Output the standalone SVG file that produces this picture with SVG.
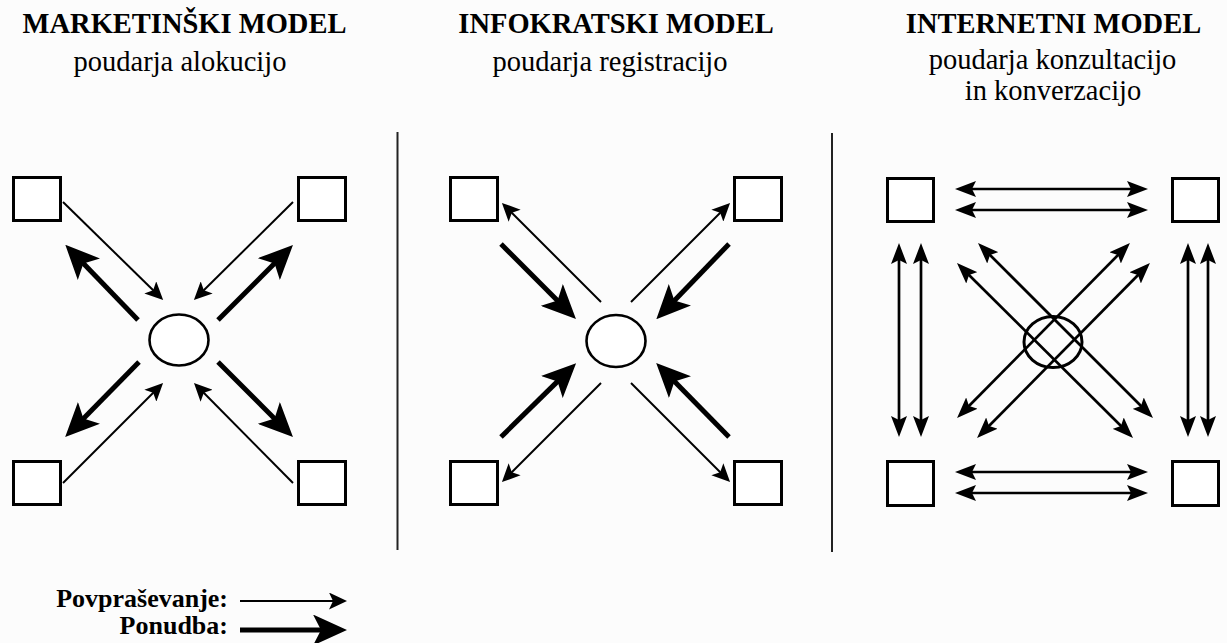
<svg xmlns="http://www.w3.org/2000/svg" width="1227" height="643" viewBox="0 0 1227 643">
  <style>
    .title { font-family: "Liberation Serif", "Times New Roman", serif; font-weight: bold; font-size: 28.5px; fill: #000; text-anchor: middle; }
    .sub { font-family: "Liberation Serif", "Times New Roman", serif; font-size: 28.5px; fill: #000; text-anchor: middle; }
    .legend { font-family: "Liberation Serif", "Times New Roman", serif; font-weight: bold; font-size: 26px; fill: #000; text-anchor: end; }
    .box { fill: #fff; stroke: #000; stroke-width: 3; }
    .hub { fill: #fff; stroke: #000; stroke-width: 2.6; }
    .hub3 { fill: none; stroke: #000; stroke-width: 3; }
    .sep { stroke: #222; stroke-width: 2; }
    .thin { stroke: #000; stroke-width: 2; fill: none; marker-end: url(#headThin); }
    .thick { stroke: #000; stroke-width: 5; fill: none; marker-end: url(#headThick); }
    .both { stroke: #000; stroke-width: 2.7; fill: none; marker-start: url(#headBoth); marker-end: url(#headBoth); }
  </style>
  <defs>
    <!-- barbed arrowheads; the line end sits inside the head, the tip lies beyond it -->
    <marker id="headThin" markerUnits="userSpaceOnUse" markerWidth="18" markerHeight="17" refX="8" refY="8.5" orient="auto">
      <path d="M0,0 L18,8.5 L0,17 L4,8.5 z" fill="#000"/>
    </marker>
    <marker id="headThick" markerUnits="userSpaceOnUse" markerWidth="34" markerHeight="31" refX="12" refY="15.5" orient="auto">
      <path d="M0,0 L34,15.5 L0,31 L8,15.5 z" fill="#000"/>
    </marker>
    <marker id="headBoth" markerUnits="userSpaceOnUse" markerWidth="21" markerHeight="16" refX="8" refY="8" orient="auto-start-reverse">
      <path d="M0,0 L21,8 L0,16 L4,8 z" fill="#000"/>
    </marker>
  </defs>

  <rect width="1227" height="643" fill="#fcfcfc"/>

  <!-- headings -->
  <g id="headings">
    <text class="title" x="184.5" y="33">MARKETINŠKI MODEL</text>
    <text class="sub" x="180" y="71">poudarja alokucijo</text>
    <text class="title" x="616" y="33">INFOKRATSKI MODEL</text>
    <text class="sub" x="610" y="71">poudarja registracijo</text>
    <text class="title" x="1053.5" y="33">INTERNETNI MODEL</text>
    <text class="sub" x="1052.5" y="69">poudarja konzultacijo</text>
    <text class="sub" x="1053" y="100">in konverzacijo</text>
  </g>

  <!-- panel dividers -->
  <g id="dividers">
    <line class="sep" x1="397.5" y1="132" x2="397.5" y2="550"/>
    <line class="sep" x1="832" y1="133" x2="832" y2="552"/>
  </g>

  <!-- connectors -->
  <g id="connectors">
    <!-- marketing model -->
    <line class="thin" x1="63" y1="202" x2="156" y2="293"/>
    <line class="thick" x1="138" y1="320" x2="80.6" y2="260.6"/>
    <line class="thin" x1="293" y1="202" x2="201" y2="293"/>
    <line class="thick" x1="218" y1="320" x2="277.4" y2="260.6"/>
    <line class="thick" x1="139" y1="362" x2="80.6" y2="421.4"/>
    <line class="thin" x1="63" y1="483" x2="156" y2="390"/>
    <line class="thin" x1="293" y1="483" x2="201" y2="390"/>
    <line class="thick" x1="218" y1="362" x2="277.4" y2="421.4"/>

    <!-- infocratic model -->
    <line class="thin" x1="601" y1="302" x2="509" y2="210"/>
    <line class="thick" x1="501" y1="244" x2="560.4" y2="303.4"/>
    <line class="thin" x1="631" y1="302" x2="723" y2="210"/>
    <line class="thick" x1="729" y1="244" x2="671.6" y2="303.4"/>
    <line class="thick" x1="501" y1="437" x2="560.4" y2="378.6"/>
    <line class="thin" x1="601" y1="383" x2="509" y2="475"/>
    <line class="thick" x1="729" y1="437" x2="671.6" y2="378.6"/>
    <line class="thin" x1="631" y1="383" x2="723" y2="475"/>

    <!-- internet model -->
    <line class="both" x1="968" y1="189" x2="1135" y2="189"/>
    <line class="both" x1="968" y1="210" x2="1135" y2="210"/>
    <line class="both" x1="968" y1="472" x2="1135" y2="472"/>
    <line class="both" x1="968" y1="493" x2="1135" y2="493"/>
    <line class="both" x1="899" y1="256" x2="899" y2="424"/>
    <line class="both" x1="921" y1="256" x2="921" y2="424"/>
    <line class="both" x1="1188" y1="256" x2="1188" y2="424"/>
    <line class="both" x1="1208" y1="256" x2="1208" y2="424"/>
    <line class="both" x1="987.2" y1="252.2" x2="1143.8" y2="408.8"/>
    <line class="both" x1="966.2" y1="272.2" x2="1123.8" y2="428.8"/>
    <line class="both" x1="1120.8" y1="252.2" x2="966.2" y2="408.8"/>
    <line class="both" x1="1140.8" y1="272.2" x2="986.2" y2="428.8"/>

    <!-- legend arrows -->
    <line class="thin" x1="240" y1="601" x2="337" y2="601"/>
    <line class="thick" x1="240" y1="630" x2="325" y2="630"/>
  </g>

  <!-- marketing model nodes -->
  <g id="m-tl"><rect class="box" x="13.5" y="177.5" width="47" height="43"/></g>
  <g id="m-tr"><rect class="box" x="298.5" y="177.5" width="47" height="43"/></g>
  <g id="m-bl"><rect class="box" x="13.5" y="461.5" width="47" height="43"/></g>
  <g id="m-br"><rect class="box" x="298.5" y="461.5" width="47" height="43"/></g>
  <g id="m-hub"><ellipse class="hub" cx="179" cy="340" rx="29.5" ry="25.5"/></g>

  <!-- infocratic model nodes -->
  <g id="i-tl"><rect class="box" x="450.5" y="177.5" width="47" height="43"/></g>
  <g id="i-tr"><rect class="box" x="734.5" y="177.5" width="47" height="43"/></g>
  <g id="i-bl"><rect class="box" x="450.5" y="461.5" width="47" height="43"/></g>
  <g id="i-br"><rect class="box" x="734.5" y="461.5" width="47" height="43"/></g>
  <g id="i-hub"><ellipse class="hub" cx="616" cy="341" rx="29.5" ry="26"/></g>

  <!-- internet model nodes -->
  <g id="n-tl"><rect class="box" x="887.5" y="178.5" width="46" height="43"/></g>
  <g id="n-tr"><rect class="box" x="1172.5" y="178.5" width="46" height="43"/></g>
  <g id="n-bl"><rect class="box" x="887.5" y="461.5" width="46" height="44"/></g>
  <g id="n-br"><rect class="box" x="1172.5" y="461.5" width="46" height="44"/></g>
  <g id="n-hub"><ellipse class="hub3" cx="1053" cy="342" rx="29" ry="25.5"/></g>

  <!-- legend -->
  <g id="legend">
    <text class="legend" x="228" y="607">Povpraševanje:</text>
    <text class="legend" x="228" y="634">Ponudba:</text>
  </g>
</svg>
